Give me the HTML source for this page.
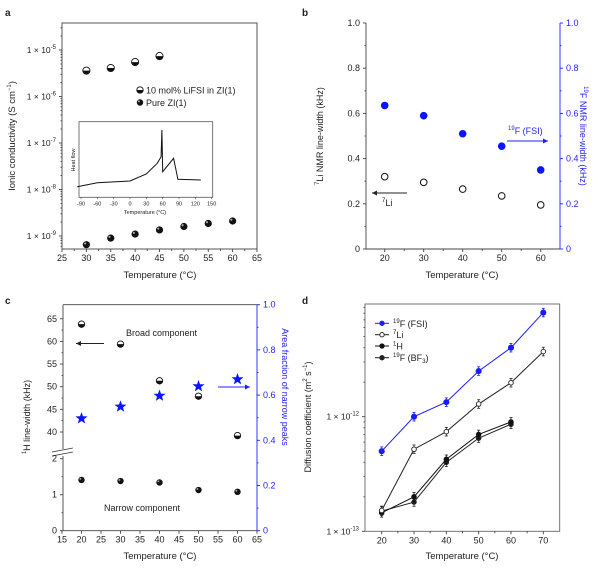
<!DOCTYPE html>
<html><head><meta charset="utf-8"><style>
html,body{margin:0;padding:0;background:#fff;}
svg{display:block;font-family:"Liberation Sans",Arial,sans-serif;}
</style></head><body>
<svg id="fig" width="600" height="576" viewBox="0 0 600 576" xmlns="http://www.w3.org/2000/svg"></svg>
<script>
// ---- Panel a data ----
const aTemps1 = [30,35,40,45];
const aLiFSI = [3.6e-6,4.1e-6,5.5e-6,7.4e-6];
const aTemps2 = [30,35,40,45,50,55,60];
const aPure = [6.5e-10,9e-10,1.1e-9,1.35e-9,1.6e-9,1.86e-9,2.1e-9];
const aXTicks = [25,30,35,40,45,50,55,60,65];
const aYExp = [-5,-6,-7,-8,-9];
const insetT = [-97,-60,0,30,50,57,58.5,60,80,88,130];
const insetH = [14,19.3,21.6,30.8,45,53.7,89,33.9,51.6,23.8,22.9];
const insetTicks = [-90,-60,-30,0,30,60,90,120,150];
// ---- Panel b data ----
const bTemps = [20,30,40,50,60];
const bLi = [0.32,0.295,0.265,0.235,0.195];
const bF = [0.635,0.59,0.51,0.455,0.35];
const bXTicks = [20,30,40,50,60];
const bYTicks = [0,0.2,0.4,0.6,0.8,1.0];
// ---- Panel c data ----
const cTemps = [20,30,40,50,60];
const cBroad = [63.8,59.4,51.3,47.9,39.2];
const cNarrow = [1.41,1.38,1.34,1.13,1.08];
const cFrac = [0.497,0.549,0.597,0.639,0.67];
const cXTicks = [15,20,25,30,35,40,45,50,55,60,65];
const cUpperTicks = [40,45,50,55,60,65];
const cLowerTicks = [0,1,2];
const cRightTicks = [0,0.2,0.4,0.6,0.8,1.0];
// ---- Panel d data ----
const dTemps6 = [20,30,40,50,60,70];
const dTemps5 = [20,30,40,50,60];
const dFSI = [5.0e-13,1.0e-12,1.34e-12,2.5e-12,4.0e-12,8.1e-12];
const dLi = [1.52e-13,5.2e-13,7.4e-13,1.29e-12,1.98e-12,3.7e-12];
const dH = [1.45e-13,2.0e-13,4.25e-13,7.0e-13,9.0e-13];
const dBF3 = [1.5e-13,1.8e-13,4.0e-13,6.5e-13,8.6e-13];
const dXTicks = [20,30,40,50,60,70];

const NS="http://www.w3.org/2000/svg";
const svg=document.getElementById('fig');
function el(tag,attrs,parent,text){const e=document.createElementNS(NS,tag);for(const k in attrs)e.setAttribute(k,attrs[k]);if(text!==undefined)e.innerHTML=text;(parent||svg).appendChild(e);return e;}
function grp(name){const g=el('g',{});return g;}
const AX='#444', BL='#1f1fff';
function line(p,x1,y1,x2,y2,c,w){return el('line',{x1,y1,x2,y2,stroke:c||AX,'stroke-width':w||0.9},p);}
function txt(p,x,y,s,o){o=o||{};return el('text',{x,y,'font-size':o.fs||8.5,fill:o.fill||'#222','text-anchor':o.anchor||'middle',transform:o.rot?`rotate(${o.rot} ${x} ${y})`:''},p,s);}
function halfMarker(p,x,y,r){el('circle',{cx:x,cy:y,r,fill:'#fff',stroke:'#111','stroke-width':0.9},p);el('path',{d:`M${x-r} ${y} A${r} ${r} 0 0 0 ${x+r} ${y} Z`,fill:'#111'},p);}
function ball(p,x,y,r){el('circle',{cx:x,cy:y,r,fill:'#111'},p);el('circle',{cx:x-r*0.35,cy:y-r*0.35,r:r*0.3,fill:'#aaa'},p);}
function arrow(p,x1,y,x2,c){line(p,x1,y,x2,y,c,1);const d=x2>x1?1:-1;el('path',{d:`M${x2} ${y} L${x2-d*5} ${y-2.5} L${x2-d*5} ${y+2.5} Z`,fill:c},p);}

// ================= Panel a =================
(function(){
 const g=grp('panel-a');
 const L=62,R=257,T=23,B=249;
 const x=v=>L+(v-25)*(R-L)/40;
 const y=v=>50+(-5-Math.log10(v))*46.5;
 txt(g,5,16,'a',{fs:10,anchor:'start'}).setAttribute('font-weight','bold');
 el('rect',{x:L,y:T,width:R-L,height:B-T,fill:'none',stroke:AX,'stroke-width':0.9},g);
 aXTicks.forEach(t=>{line(g,x(t),B,x(t),B+3);txt(g,x(t),B+12,t,{fs:9});});
 for(let t=27.5;t<65;t+=5)line(g,x(t),B,x(t),B+2);
 aYExp.forEach(e=>{const yy=y(Math.pow(10,e));line(g,L,yy,L-3,yy);txt(g,L-6,yy+3,`1 × 10<tspan font-size="6" dy="-4">${e}</tspan>`,{fs:8.5,anchor:'end'});
  for(let m=2;m<10;m++){const ym=y(m*Math.pow(10,e-1));if(ym>T&&ym<B)line(g,L,ym,L-1.5,ym);}});
 for(let m=2;m<10;m++){const ym=y(m*1e-5);if(ym>T)line(g,L,ym,L-1.5,ym);}
 const yl=txt(g,15,136,'Ionic conductivity (S cm<tspan font-size="6" dy="-4">−1</tspan><tspan dy="4">)</tspan>',{fs:9.5,rot:-90});
 const xl=txt(g,160,278,'Temperature (°C)',{fs:9.5});
 aTemps1.forEach((t,i)=>{const m=el('g',{},g);halfMarker(m,x(t),y(aLiFSI[i]),3.6);});
 aTemps2.forEach((t,i)=>{const m=el('g',{},g);ball(m,x(t),y(aPure[i]),3.6);});
 const lg=el('g',{},g);
 halfMarker(lg,140,90,3.2);txt(lg,146,93.5,'10 mol% LiFSI in ZI(1)',{fs:9,anchor:'start'});
 ball(lg,140,102.5,3.2);txt(lg,146,106,'Pure ZI(1)',{fs:9,anchor:'start'});
 // inset
 const ig=el('g',{},g);
 const iL=79,iR=212.7,iT=121.7,iB=197.3;
 const ix=v=>81+(v+90)*(211.7-81)/240;
 const iy=h=>iB-h*0.756;
 el('rect',{x:iL,y:iT,width:iR-iL,height:iB-iT,fill:'#fff',stroke:'#555','stroke-width':0.8},ig);
 insetTicks.forEach(t=>{line(ig,ix(t),iB,ix(t),iB+2,'#555',0.6);txt(ig,ix(t),iB+8,t,{fs:5.5});});
 txt(ig,145,214,'Temperature (°C)',{fs:5.5});
 txt(ig,75,160,'Heat flow',{fs:5.5,rot:-90});
 const pts=insetT.map((t,i)=>`${ix(t).toFixed(1)},${iy(insetH[i]).toFixed(1)}`).join(' ');
 const pl=el('polyline',{points:pts,fill:'none',stroke:'#111','stroke-width':1},ig);
})();

// ================= Panel b =================
(function(){
 const g=grp('panel-b');
 const L=366,R=560,T=23,B=249;
 const x=v=>384.7+(v-20)*3.9;
 const y=v=>B-v*(B-T);
 txt(g,302,16,'b',{fs:10,anchor:'start'}).setAttribute('font-weight','bold');
 line(g,L,T,L,B);line(g,L,B,R,B);line(g,R,T,R,B,BL);
 bXTicks.forEach(t=>{line(g,x(t),B,x(t),B+3);txt(g,x(t),B+12,t,{fs:9});});
 for(let t=25;t<65;t+=10)line(g,x(t),B,x(t),B+2);
 bYTicks.forEach(t=>{const yy=y(t);line(g,L,yy,L-3,yy);txt(g,L-6,yy+3,t===0?'0':t.toFixed(1),{fs:9,anchor:'end'});
  line(g,R,yy,R+3,yy,BL);txt(g,R+6,yy+3,t===0?'0':t.toFixed(1),{fs:9,anchor:'start',fill:BL});});
 for(let t=0.1;t<1;t+=0.2){line(g,L,y(t),L-1.5,y(t));line(g,R,y(t),R+1.5,y(t),BL);}
 const yl=txt(g,323,136,'<tspan font-size="6" dy="-4">7</tspan><tspan dy="4">Li NMR line-width (kHz)</tspan>',{fs:9,rot:-90});
 const yr=txt(g,580,136,'<tspan font-size="6" dy="-4">19</tspan><tspan dy="4">F NMR line-width (kHz)</tspan>',{fs:9,rot:90,fill:BL});
 const xl=txt(g,462,278,'Temperature (°C)',{fs:9.5});
 bTemps.forEach((t,i)=>{const c=el('circle',{cx:x(t),cy:y(bLi[i]),r:3.3,fill:'#fff',stroke:'#111','stroke-width':1},g);
  const f=el('circle',{cx:x(t),cy:y(bF[i]),r:3.8,fill:'#0a14ff'},g);});
 arrow(g,407,193,372,'#222');txt(g,382,206,'<tspan font-size="6" dy="-4">7</tspan><tspan dy="4">Li</tspan>',{fs:9,anchor:'start'});
 arrow(g,507,141,548,BL);txt(g,508,134,'<tspan font-size="6" dy="-4">19</tspan><tspan dy="4">F (FSI)</tspan>',{fs:9,anchor:'start',fill:BL});
})();

// ================= Panel c =================
(function(){
 const g=grp('panel-c');
 const L=63,R=257,T=304.7,B=530.7;
 const x=v=>62+(v-15)*3.9;
 const yU=v=>432-(v-40)*4.53;
 const yLo=v=>B-v*36;
 const yR=v=>B-v*(B-T);
 txt(g,5,304,'c',{fs:10,anchor:'start'}).setAttribute('font-weight','bold');
 line(g,L,T,R,T);line(g,L,B,R,B);line(g,R,T,R,B,BL);
 line(g,L,T,L,449);line(g,L,456,L,B);
 line(g,52,452,73,448,'#333',0.8);line(g,52,456,73,452,'#333',0.8);
 cXTicks.forEach(t=>{line(g,x(t),B,x(t),B+3);txt(g,x(t),B+12,t,{fs:9});});
 cUpperTicks.forEach(t=>{line(g,L,yU(t),L-3,yU(t));txt(g,L-6,yU(t)+3,t,{fs:9,anchor:'end'});});
 for(let t=42.5;t<66;t+=2.5)if(t%5)line(g,L,yU(t),L-1.5,yU(t));
 cLowerTicks.forEach(t=>{line(g,L,yLo(t),L-3,yLo(t));txt(g,L-6,yLo(t)+3,t,{fs:9,anchor:'end'});});
 [0.5,1.5].forEach(t=>line(g,L,yLo(t),L-1.5,yLo(t)));
 cRightTicks.forEach(t=>{line(g,R,yR(t),R+3,yR(t),BL);txt(g,R+6,yR(t)+3,t===0?'0':t.toFixed(1),{fs:9,anchor:'start',fill:BL});});
 for(let t=0.1;t<1;t+=0.2)line(g,R,yR(t),R+1.5,yR(t),BL);
 const yl=txt(g,30,417,'<tspan font-size="6" dy="-4">1</tspan><tspan dy="4">H line-width (kHz)</tspan>',{fs:9,rot:-90});
 const yr=txt(g,282,387,'Area fraction of narrow peaks',{fs:9,rot:90,fill:BL});
 const xl=txt(g,160,559,'Temperature (°C)',{fs:9.5});
 cTemps.forEach((t,i)=>{
  const a=el('g',{},g);halfMarker(a,x(t),yU(cBroad[i]),3.2);
  const n=el('g',{},g);ball(n,x(t),yLo(cNarrow[i]),3.2);
  const cx=x(t),cy=yR(cFrac[i]);let d='';for(let k=0;k<10;k++){const r=k%2?2.6:6.3;const an=-Math.PI/2+k*Math.PI/5;d+=(k?'L':'M')+(cx+r*Math.cos(an)).toFixed(1)+' '+(cy+r*Math.sin(an)).toFixed(1);}
  const s=el('path',{d:d+'Z',fill:'#0a14ff'},g);});
 txt(g,126,336,'Broad component',{fs:9,anchor:'start'});
 arrow(g,104,343.5,76,'#222');
 txt(g,104,511,'Narrow component',{fs:9,anchor:'start'});
 arrow(g,218,387,250,BL);
})();

// ================= Panel d =================
(function(){
 const g=grp('panel-d');
 const L=365,R=559.7,T=304,B=531.3;
 const x=v=>381.7+(v-20)*3.232;
 const y=v=>416.7+(-12-Math.log10(v))*114.6;
 txt(g,302,304,'d',{fs:10,anchor:'start'}).setAttribute('font-weight','bold');
 el('rect',{x:L,y:T,width:R-L,height:B-T,fill:'none',stroke:'#666','stroke-width':0.9},g);
 dXTicks.forEach(t=>{line(g,x(t),B,x(t),B+3);txt(g,x(t),B+12,t,{fs:9});});
 for(let t=25;t<75;t+=10)line(g,x(t),B,x(t),B+2);
 [-12,-13].forEach(e=>{const yy=y(Math.pow(10,e));line(g,L,yy,L-3,yy);txt(g,L-6,yy+3,`1 × 10<tspan font-size="6" dy="-4">${e}</tspan>`,{fs:8.5,anchor:'end'});});
 [-13,-12].forEach(e=>{for(let m=2;m<10;m++){const ym=y(m*Math.pow(10,e));if(ym>T)line(g,L,ym,L-1.5,ym);}});
 const yl=txt(g,311,417,'Diffusion coefficient (m<tspan font-size="6" dy="-4">2</tspan><tspan dy="4"> s</tspan><tspan font-size="6" dy="-4">−1</tspan><tspan dy="4">)</tspan>',{fs:9,rot:-90});
 const xl=txt(g,462,559,'Temperature (°C)',{fs:9.5});
 function series(name,temps,vals,col,fill,r){
  const sg=el('g',{},g);
  el('polyline',{points:temps.map((t,i)=>x(t)+','+y(vals[i])).join(' '),fill:'none',stroke:col,'stroke-width':1},sg);
  temps.forEach((t,i)=>{const y1=y(vals[i]*1.09),y2=y(vals[i]/1.09);line(sg,x(t),y1,x(t),y2,col,0.8);line(sg,x(t)-1.5,y1,x(t)+1.5,y1,col,0.8);line(sg,x(t)-1.5,y2,x(t)+1.5,y2,col,0.8);
   el('circle',{cx:x(t),cy:y(vals[i]),r,fill,stroke:col,'stroke-width':0.9},sg);});
 }
 series('series-19f-bf3',dTemps5,dBF3,'#222','#222',2.3);
 series('series-1h',dTemps5,dH,'#111','#111',2.3);
 series('series-7li',dTemps6,dLi,'#222','#fff',2.3);
 series('series-19f-fsi',dTemps6,dFSI,'#1a1aff','#1a1aff',2.6);
 const lg=el('g',{},g);
 const ent=[[BL,BL,'<tspan font-size="6" dy="-4">19</tspan><tspan dy="4">F (FSI)</tspan>'],['#222','#fff','<tspan font-size="6" dy="-4">7</tspan><tspan dy="4">Li</tspan>'],['#111','#111','<tspan font-size="6" dy="-4">1</tspan><tspan dy="4">H</tspan>'],['#222','#222','<tspan font-size="6" dy="-4">19</tspan><tspan dy="4">F (BF</tspan><tspan font-size="6" dy="2">3</tspan><tspan dy="-2">)</tspan>']];
 const ys=[323.3,334.7,346,357.7];
 ent.forEach((e,i)=>{line(lg,375,ys[i],389,ys[i],e[0],1);el('circle',{cx:382,cy:ys[i],r:2.2,fill:e[1],stroke:e[0],'stroke-width':0.9},lg);txt(lg,393,ys[i]+3.5,e[2],{fs:9,anchor:'start'});});
})();
</script>
</body></html>
